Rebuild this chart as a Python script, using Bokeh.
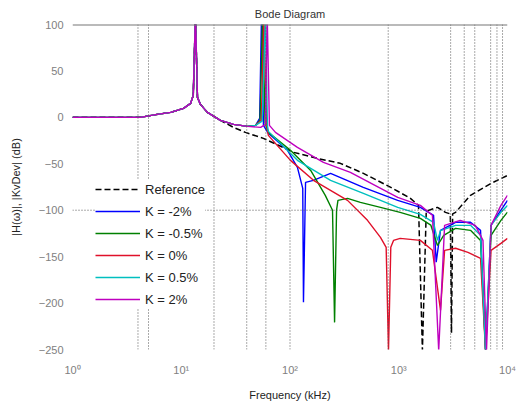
from bokeh.plotting import figure
from bokeh.models import Span, Legend, LegendItem, FixedTicker, Range1d
from bokeh.embed import file_html
from bokeh.resources import INLINE

# ---- data ----
# shared low-frequency part of every response (kHz, dB)
shared_f = [1, 4.2, 6.0, 8.0, 10.5, 12.2, 12.9, 13.5, 14.1, 15.0, 17.4, 22.9]
shared_db = [0, 0, 3.2, 5.4, 9.7, 15.1, 23.7, 110, 21.5, 14.0, 5.4, -3.2]

ref_f = [30.2, 38.9, 57.0, 108, 179, 290, 473, 845, 1280, 1520, 1650, 1790,
         2270, 2690, 2980, 3055, 3130, 3330, 4570, 7060, 10000]
ref_db = [-10.8, -16.2, -22.6, -37.7, -44.2, -49.5, -60.3, -75.4, -87.2, -94.8, -251, -101,
          -96.9, -102.3, -104, -232, -104, -102.3, -84.0, -71.1, -62.5]

km2_f = [30.2, 40.6, 48.2, 52.6, 54.7, 57.0, 63.2, 94.9, 117, 131, 133, 139, 164, 236,
         472, 978, 1580, 2090, 2210, 2420, 3330, 4570, 5650, 6280, 7060, 8700, 10000]
km2_db = [-7.5, -9.7, -8.6, -1, 110, -8.6, -17.2, -35.5, -53.8, -76.5, -199, -70, -67.8, -60.3,
          -75.4, -89.4, -96.9, -105.5, -156, -121.7, -113, -113, -121.7, -251, -116, -100, -89.4]

km05_f = [30.2, 40.6, 48.2, 53.0, 56.0, 59.0, 63.2, 101, 155, 211, 246, 257, 268, 276, 338,
          444, 679, 1030, 1580, 1970, 2270, 2590, 3330, 4570, 5650, 6280, 7060, 8700, 10000]
km05_db = [-7.5, -9.7, -8.6, -3, 110, -6, -16.2, -35.5, -57.1, -84, -100, -220.8, -100, -89.4, -87.2,
           -91.5, -96.9, -102.3, -108.8, -116, -138, -127, -119.5, -121.7, -132.5, -251, -127, -111, -102]

k0_f = [30.2, 40.6, 48.2, 54.5, 57.5, 61.0, 63.2, 101, 164.5, 338, 516, 679, 766, 805, 845,
        895, 1030, 1580, 2040, 2421, 2640, 3330, 4330, 5650, 6280, 7060, 8700, 10000]
k0_db = [-7.5, -9.7, -8.6, -3, 110, -8, -19.4, -46.3, -67.8, -89.4, -110.9, -129.2, -140, -251, -140,
         -132.5, -130.3, -132.5, -143.2, -207.8, -143.2, -141, -145.4, -151.8, -251, -143.2, -135.7, -130.3]

kp05_f = [30.2, 40.6, 48.2, 55.5, 59.5, 62.0, 63.2, 117, 236, 473, 978, 1580, 2090, 2270, 2420,
          3330, 4570, 5650, 6280, 7060, 8700, 10000]
kp05_db = [-7.5, -9.7, -8.6, -4, 110, -9, -15.1, -46.3, -67.8, -81.8, -96.9, -104.5, -113, -132.5, -122,
           -116.3, -116.3, -127, -251, -116.3, -102.3, -94.8]

kp2_f = [30.2, 40.6, 53.7, 59.5, 61.7, 64.7, 73.5, 117, 203, 359, 978, 1580, 2040, 2330, 2640,
         3670, 5060, 5950, 6410, 7060, 8700, 10000]
kp2_db = [-7.5, -9.7, -10.8, -7.5, 110, -8.6, -16.2, -32.3, -48.5, -59.2, -86.2, -94.8, -105.5, -251, -116.3,
          -111, -116.3, -132.5, -251, -116.3, -94.8, -84]

labels = ["Reference", "K = -2%", "K = -0.5%", "K = 0%", "K = 0.5%", "K = 2%"]
colors = ["#000000", "#0000ff", "#008000", "#e0102a", "#00bfbf", "#bf00bf"]

grid_freqs = [4, 5, 20, 40, 60, 100, 800, 3000, 4000, 5000, 7000, 8000, 9000]
x_ticks = [1, 10, 100, 1000, 10000]
x_tick_labels = ["10\u2070", "10\u00b9", "10\u00b2", "10\u00b3", "10\u2074"]
y_ticks = [-250, -200, -150, -100, -50, 0, 50, 100]

FONT = "Liberation Sans"

p = figure(width=525, height=403, x_axis_type="log",
           x_range=Range1d(1, 1e4), y_range=Range1d(-250, 100),
           output_backend="svg", toolbar_location=None, title="Bode Diagram",
           min_border_left=72, min_border_right=18, min_border_top=24, min_border_bottom=54)

p.background_fill_color = "white"
p.border_fill_color = "white"
p.outline_line_color = None
p.grid.grid_line_color = None

p.title.align = "center"
p.title.text_font = FONT
p.title.text_font_size = "11px"
p.title.text_font_style = "normal"
p.title.text_color = "#333333"

# grid-like markers
for gf in grid_freqs:
    p.add_layout(Span(location=gf, dimension="height", line_color="#555555",
                      line_dash="1 2", line_width=1))
p.add_layout(Span(location=-100, dimension="width", line_color="#555555",
                  line_dash="1 2", line_width=1))
p.add_layout(Span(location=100, dimension="width", line_color="#777777", line_width=2))

series = [(ref_f, ref_db), (km2_f, km2_db), (km05_f, km05_db),
          (k0_f, k0_db), (kp05_f, kp05_db), (kp2_f, kp2_db)]

renderers = []
for i, (f, db) in enumerate(series):
    xs = shared_f + f
    ys = shared_db + db
    if i == 0:
        r = p.line(xs, ys, line_color=colors[i], line_width=1.5, line_dash="6 3")
    else:
        r = p.line(xs, ys, line_color=colors[i], line_width=1.4)
    renderers.append(r)

# axes
p.xaxis.ticker = FixedTicker(ticks=x_ticks)
p.xaxis.major_label_overrides = {t: l for t, l in zip(x_ticks, x_tick_labels)}
p.yaxis.ticker = FixedTicker(ticks=y_ticks)
for ax in (p.xaxis[0], p.yaxis[0]):
    ax.axis_line_color = None
    ax.major_tick_line_color = None
    ax.minor_tick_line_color = None
    ax.major_label_text_font = FONT
    ax.major_label_text_font_size = "11px"
    ax.major_label_text_color = "#808080"
    ax.axis_label_text_font = FONT
    ax.axis_label_text_font_size = "11px"
    ax.axis_label_text_font_style = "normal"
    ax.axis_label_text_color = "#222222"
p.yaxis.major_label_standoff = 3
p.yaxis.axis_label = "|H(\u03c9)|, |KvDev| (dB)"
p.yaxis.axis_label_standoff = 14
p.xaxis.major_label_standoff = 8
p.xaxis.axis_label = "Frequency (kHz)"
p.xaxis.axis_label_standoff = 10

legend = Legend(items=[LegendItem(label=l, renderers=[r]) for l, r in zip(labels, renderers)],
                location=(23, 41))
legend.background_fill_color = "white"
legend.background_fill_alpha = 1.0
legend.border_line_color = None
legend.label_text_font = FONT
legend.label_text_font_size = "13px"
legend.label_text_color = "#222222"
legend.glyph_width = 45
legend.glyph_height = 18
legend.label_height = 18
legend.spacing = 4
legend.padding = 5
legend.margin = 0
legend.label_standoff = 5
p.add_layout(legend)

open("out.html", "w").write(file_html(p, INLINE, title="Bode Diagram"))
